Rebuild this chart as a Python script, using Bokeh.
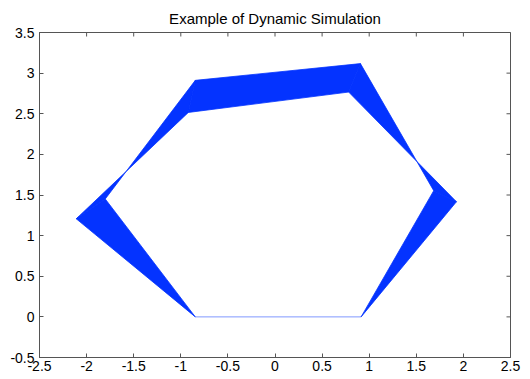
import math
from bokeh.plotting import figure
from bokeh.models import Range1d, FixedTicker
from bokeh.embed import file_html
from bokeh.resources import INLINE

# ---- data ----
title_text = "Example of Dynamic Simulation"
x_ticks = [-2.5, -2.0, -1.5, -1.0, -0.5, 0.0, 0.5, 1.0, 1.5, 2.0, 2.5]
x_tick_labels = ["-2.5", "-2", "-1.5", "-1", "-0.5", "0", "0.5", "1", "1.5", "2", "2.5"]
y_ticks = [-0.5, 0.0, 0.5, 1.0, 1.5, 2.0, 2.5, 3.0, 3.5]
y_tick_labels = ["-0.5", "0", "0.5", "1", "1.5", "2", "2.5", "3", "3.5"]

# fixed base link
base_x = [-0.846, 0.914]
base_y = [0.0, 0.0]

# joint positions of the chain in its first configuration
chain1_x = [-0.846, -2.110, -0.920, 0.782, 1.926, 0.914]
chain1_y = [0.000, 1.207, 2.516, 2.767, 1.417, 0.000]
# joint positions of the chain in its second configuration
chain2_x = [-0.846, -1.802, -0.846, 0.907, 1.685, 0.914]
chain2_y = [0.000, 1.451, 2.911, 3.117, 1.553, 0.000]

X_MIN, X_MAX = -2.5, 2.5
Y_MIN, Y_MAX = -0.5, 3.5

BLUE = "#0433FF"
AXIS_COLOR = "#555555"
FONT = "Liberation Sans"

p = figure(width=530, height=379, output_backend="svg", toolbar_location=None,
           x_range=Range1d(X_MIN, X_MAX), y_range=Range1d(Y_MIN, Y_MAX),
           min_border_left=39, min_border_right=20, min_border_top=32,
           min_border_bottom=22, title=title_text)

p.title.align = "center"
p.title.vertical_align = "top"
p.title.text_font = FONT
p.title.text_font_size = "15px"
p.title.text_font_style = "normal"
p.title.text_color = "black"
p.title.standoff = 8

p.grid.visible = False
p.background_fill_color = "white"
p.border_fill_color = "white"
p.outline_line_color = AXIS_COLOR
p.outline_line_width = 1

def style_axis(ax, ticks, labels, standoff):
    ax.ticker = FixedTicker(ticks=ticks)
    ax.major_label_overrides = {t: l for t, l in zip(ticks, labels)}
    ax.minor_tick_line_color = None
    ax.major_tick_in = 4
    ax.major_tick_out = 0
    ax.major_tick_line_color = AXIS_COLOR
    ax.axis_line_color = AXIS_COLOR
    ax.major_label_text_font = FONT
    ax.major_label_text_color = "black"
    ax.major_label_text_font_size = "14px"
    ax.major_label_standoff = standoff

style_axis(p.xaxis[0], x_ticks, x_tick_labels, 3)
style_axis(p.yaxis[0], y_ticks, y_tick_labels, 5)

# inward ticks on the top and right edges of the box (clipped to the frame)
p.scatter(x_ticks, [Y_MAX] * len(x_ticks), marker="dash", size=8, angle=math.pi / 2,
          line_color=AXIS_COLOR, line_width=1)
p.scatter([X_MAX] * len(y_ticks), y_ticks, marker="dash", size=8,
          line_color=AXIS_COLOR, line_width=1)

# swept area of each moving link between the two configurations
xs, ys = [], []
for i in range(len(chain1_x) - 1):
    xs.append([chain1_x[i], chain1_x[i + 1], chain2_x[i + 1], chain2_x[i]])
    ys.append([chain1_y[i], chain1_y[i + 1], chain2_y[i + 1], chain2_y[i]])
p.patches(xs, ys, fill_color=BLUE, line_color=BLUE, line_width=0.8)

# fixed base
p.line(base_x, base_y, line_color=BLUE, line_alpha=0.5, line_width=1)

open("out.html", "w").write(file_html(p, INLINE))
